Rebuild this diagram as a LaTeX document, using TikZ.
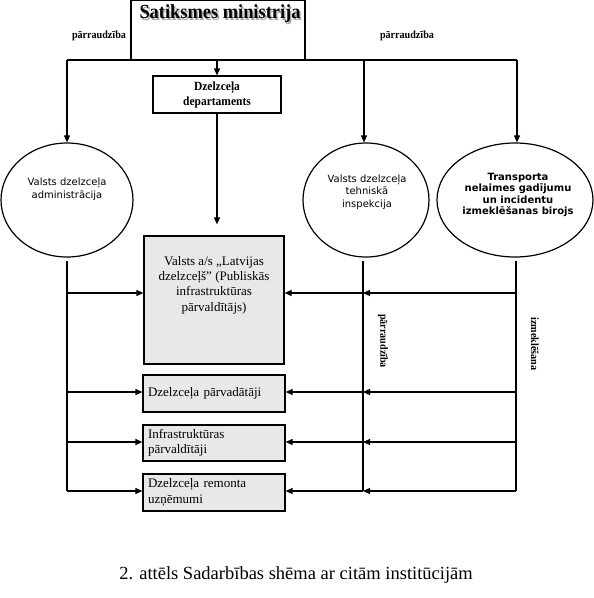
\documentclass[tikz,border=0pt]{standalone}
\usepackage{fontspec}
\setmainfont{Liberation Serif}
\newfontfamily\condfont[FakeStretch=0.92]{Liberation Serif}
\newfontfamily\comicfont{DejaVu Sans}
\usetikzlibrary{arrows.meta,shapes.geometric}
\definecolor{boxgray}{RGB}{232,232,232}
\begin{document}
\begin{tikzpicture}[x=1pt,y=-1pt,line width=1.2pt,
  arr/.style={-{Triangle[length=7pt,width=6pt]}},
  plainbox/.style={draw,inner sep=0pt},
  graybox/.style={draw,fill=boxgray,inner sep=0pt},
  ell/.style={draw,ellipse,inner sep=0pt},
  elltext/.style={font=\comicfont\fontsize{10}{12.5}\selectfont,align=center},
  smalltext/.style={font=\fontsize{13}{15.5}\selectfont,align=left,text width=132pt},
  supl/.style={font=\condfont\bfseries\fontsize{11}{12}\selectfont}]
\useasboundingbox (0,0) rectangle (594,598);

% ministry
\node[plainbox,minimum width=174pt,minimum height=60pt] (min) at (218,30) {};
\node[text=gray!70,font=\condfont\bfseries\fontsize{20}{22}\selectfont] (titsh) at (221.5,15.5) {Satiksmes ministrija};
\node[font=\condfont\bfseries\fontsize{20}{22}\selectfont] (tit) at (220,14) {Satiksmes ministrija};
\node[supl] (pl1) at (99,36) {pārraudzība};
\node[supl] (pl2) at (407,36) {pārraudzība};

% department
\node[plainbox,minimum width=128pt,minimum height=37pt,font=\condfont\bfseries\fontsize{12.5}{15}\selectfont,align=center] (dept) at (217,94.5) {Dzelzceļa\\departaments};

% ellipses
\node[ell,minimum width=132pt,minimum height=114pt] (e1) at (67,200) {};
\node[elltext] (e1t) at (67,189) {Valsts dzelzceļa\\administrācija};
\node[ell,minimum width=126pt,minimum height=114pt] (e2) at (366,200) {};
\node[elltext] (e2t) at (367,192) {Valsts dzelzceļa\\tehniskā\\inspekcija};
\node[ell,minimum width=156pt,minimum height=114pt] (e3) at (515,200) {};
\node[elltext,font=\comicfont\bfseries\fontsize{10}{11.5}\selectfont] (e3t) at (518,195) {Transporta\\nelaimes gadījumu\\un incidentu\\izmeklēšanas birojs};

% gray boxes
\node[graybox,minimum width=140pt,minimum height=128pt] (lav) at (214,300) {};
\node[font=\fontsize{13}{15.3}\selectfont,align=center] (lavt) at (214,285) {Valsts a/s „Latvijas\\dzelzceļš” (Publiskās\\infrastruktūras\\pārvaldītājs)};
\node[graybox,minimum width=142pt,minimum height=37pt,smalltext] (carr) at (214,393.5) {Dzelzceļa pārvadātāji};
\node[graybox,minimum width=142pt,minimum height=36pt,smalltext] (infr) at (214,443) {Infrastruktūras\\pārvaldītāji};
\node[graybox,minimum width=142pt,minimum height=37pt,smalltext] (rem) at (214,492.5) {Dzelzceļa remonta\\uzņēmumi};

% top distribution
\coordinate (hL) at (67,60);
\coordinate (hM) at (364,60);
\coordinate (hR) at (517,60);
\coordinate (md) at (217,60);
\draw (hL) -- (hR);
\draw[arr] (hL) -- (e1.north);
\draw[arr] (hM) -- (hM |- e2.north);
\draw[arr] (hR) -- (hR |- e3.north);
\draw[arr] (md) -- (md |- dept.north);
\draw[arr,shorten >=11pt] (dept.south) -- (dept.south |- lav.north);

% left side
\coordinate (L0) at (67,261);
\coordinate (L1) at (67,293);
\coordinate (L2) at (67,392);
\coordinate (L3) at (67,442);
\coordinate (L4) at (67,491);
\draw (L0) -- (L4);
\draw[arr] (L1) -- (L1 -| lav.west);
\draw[arr] (L2) -- (L2 -| carr.west);
\draw[arr] (L3) -- (L3 -| infr.west);
\draw[arr] (L4) -- (L4 -| rem.west);

% middle line
\coordinate (M0) at (363,261);
\coordinate (M1) at (363,293);
\coordinate (M2) at (363,392);
\coordinate (M3) at (363,442);
\coordinate (M4) at (363,491);
\draw (M0) -- (M4);
% right line
\coordinate (R0) at (516,261);
\coordinate (R1) at (516,293);
\coordinate (R2) at (516,392);
\coordinate (R3) at (516,442);
\coordinate (R4) at (516,491);
\draw (R0) -- (R4);
\draw[arr] (R1) -- (M1);
\draw[arr] (R2) -- (M2);
\draw[arr] (R3) -- (M3);
\draw[arr] (R4) -- (M4);
\draw[arr] (M1) -- (M1 -| lav.east);
\draw[arr] (M2) -- (M2 -| carr.east);
\draw[arr] (M3) -- (M3 -| infr.east);
\draw[arr] (M4) -- (M4 -| rem.east);

\node[supl,rotate=-90] (pl3) at (383,341) {pārraudzība};
\node[supl,rotate=-90] (izm) at (535,344) {izmeklēšana};

% caption
\node[font=\fontsize{18.5}{21}\selectfont] (cap) at (296,575) {2. attēls Sadarbības shēma ar citām institūcijām};
\end{tikzpicture}
\end{document}
